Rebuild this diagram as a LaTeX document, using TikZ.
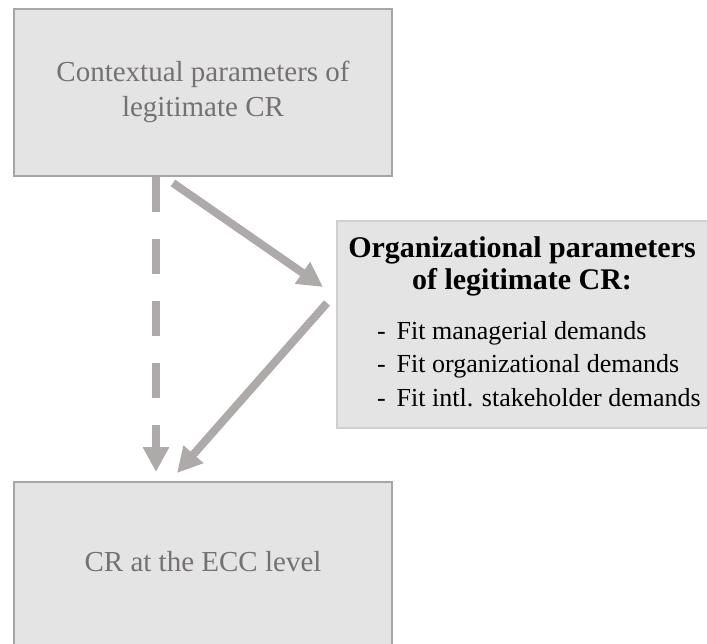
\documentclass[tikz,border=0pt]{standalone}
\usepackage{fontspec}
\setmainfont{Liberation Serif}
\usetikzlibrary{arrows.meta,calc}
\definecolor{boxfill}{HTML}{E4E4E4}
\definecolor{boxline}{HTML}{A6A6A6}
\definecolor{orgline}{HTML}{D0D0D0}
\definecolor{greytext}{HTML}{767171}
\definecolor{arrowgrey}{HTML}{AEAAAA}
\tikzset{
  x=1pt, y=-1pt,
  mainbox/.style={draw=boxline, line width=2pt, fill=boxfill, inner sep=0pt, outer sep=0pt, anchor=north west},
  orgbox/.style={draw=orgline, line width=1.5pt, fill=boxfill, inner sep=0pt, outer sep=0pt, anchor=north west},
  greylabel/.style={text=greytext, font=\fontsize{29}{35}\selectfont, align=center, inner sep=0pt, anchor=base},
  titlelabel/.style={text=black, font=\fontsize{30}{32}\selectfont\bfseries, align=center, inner sep=0pt, anchor=base},
  itemlabel/.style={text=black, font=\fontsize{26}{33}\selectfont, anchor=base west, inner sep=0pt},
  flow/.style={draw=arrowgrey, line width=8pt, -{Triangle[width=25pt,length=25pt]}},
  flowdash/.style={flow, dash pattern=on 35pt off 27pt},
}
\begin{document}
\begin{tikzpicture}
\useasboundingbox (0,0) rectangle (707,644);
\clip (0,0) rectangle (707,644);

% boxes (the bottom and right boxes run past the page edge)
\node[mainbox, minimum width=378pt, minimum height=167pt] (ctx) at (14,9) {};
\node[mainbox, minimum width=378pt, minimum height=180pt] (ecc) at (14,482) {};
\node[orgbox, minimum width=385pt, minimum height=207pt] (org) at (337,221) {};

% texts
\node[greylabel] (ctxtext) at (203,117) {Contextual parameters of\\legitimate CR};
\node[greylabel] (ecctext) at (203,571) {CR at the ECC level};
\node[titlelabel] (orgtitle) at (522,290) {Organizational parameters\\of legitimate CR:};
\node[itemlabel] (item1) at (377,340) {-\, Fit managerial demands};
\node[itemlabel] (item2) at (377,373) {-\, Fit organizational demands};
\node[itemlabel] (item3) at (377,406) {-\, Fit intl. stakeholder demands};

% connectors
\draw[flowdash] ($(ctx.south west)+(142,1)$) -- ($(ecc.north west)+(142,-10)$);
\draw[flow] ($(ctx.south west)+(159,7)$) -- ($(org.north west)+(-14,66)$);
\draw[flow] ($(org.north west)+(-10,82)$) -- ($(ecc.north west)+(163,-9)$);
\end{tikzpicture}
\end{document}
